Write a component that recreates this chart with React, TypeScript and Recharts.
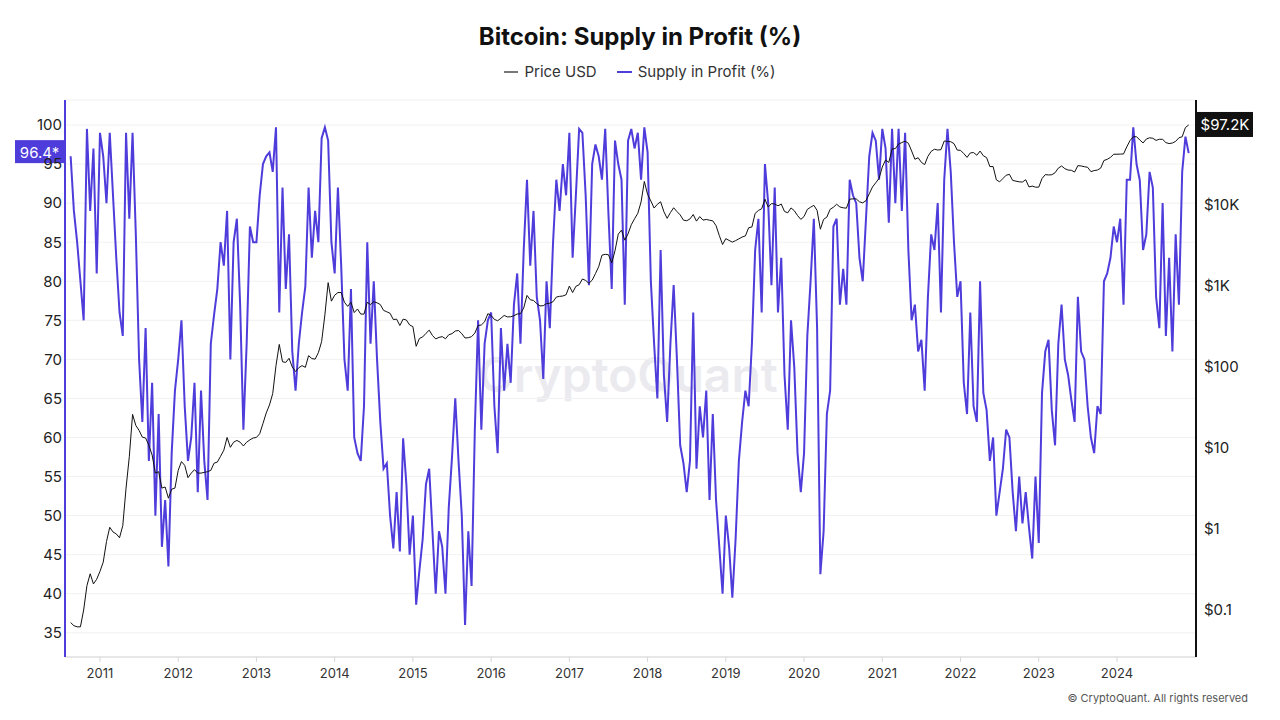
import { ComposedChart, Line, XAxis, YAxis, CartesianGrid, ReferenceLine } from 'recharts'

// Semi-monthly readings (1st and 16th of each month). 2010 starts mid-August.
const FIRST_SLOT_2010 = 15
const SLOTS_PER_YEAR = 24

const years = [2010, 2011, 2012, 2013, 2014, 2015, 2016, 2017, 2018, 2019, 2020, 2021, 2022, 2023, 2024]
const yearTicks = [2011, 2012, 2013, 2014, 2015, 2016, 2017, 2018, 2019, 2020, 2021, 2022, 2023, 2024]
const profitTicks = [35, 40, 45, 50, 55, 60, 65, 70, 75, 80, 85, 90, 95, 100]
const priceTicks = [0.1, 1, 10, 100, 1000, 10000]

// Supply in profit (%)
const profit2010 = [96, 89, 85, 80, 75, 99.5, 89, 97, 81]
const profit2011 = [99, 96, 90, 99, 91, 83, 76, 73, 99, 88, 99, 86, 70, 62, 74, 57, 67, 50, 63, 46, 52, 43.5, 58, 66]
const profit2012 = [70, 75, 64, 57, 60, 67, 53, 66, 57, 52, 72, 75.7, 79, 85, 82, 89, 70, 85, 88, 77, 61, 72, 87, 85]
const profit2013 = [85, 91, 95, 96, 96.5, 94, 99.7, 76, 92, 79, 86, 71, 66, 72, 76, 79.3, 92, 83, 89, 85, 98.3, 99.7, 98, 85]
const profit2014 = [81, 92, 82, 70, 66, 79, 60, 58, 57, 64, 85, 72, 80, 70, 62, 56, 56.7, 50, 45.8, 53, 45.4, 59.9, 54, 45]
const profit2015 = [50, 38.6, 43, 47, 54, 56, 48, 40, 48, 46, 40, 51, 57.5, 65, 57, 50, 36, 48, 41, 61, 75, 61, 72, 75]
const profit2016 = [76, 64, 58, 74, 66, 72, 67, 77, 81, 72, 84, 93, 82, 89, 78, 75, 67.5, 80, 74, 85, 93, 89, 95, 91]
const profit2017 = [99, 83, 91, 99.5, 99, 91, 79.5, 95, 97.5, 96, 93, 99.5, 88.5, 79, 98, 95, 93, 77, 98, 99.5, 97, 99, 93, 99.7]
const profit2018 = [96.5, 80, 72, 65, 84, 68, 62, 72, 79.5, 70, 59, 56.7, 53, 57, 76, 56, 64, 60, 66, 52, 63, 52, 46, 40]
const profit2019 = [50, 46, 39.5, 47, 57, 62, 66, 64, 72, 84, 88, 76, 95, 90, 79.5, 92, 76, 83, 68, 61, 75, 69, 58, 53]
const profit2020 = [58, 73, 80, 88, 74, 42.5, 48, 63, 66, 87, 88, 77, 81.6, 77, 93, 91, 90, 83, 80, 88, 96, 99, 98, 93]
const profit2021 = [99.5, 97, 87.5, 99.5, 90, 99.5, 89, 99, 84, 75, 77, 71, 72.5, 66, 78, 86, 84, 90, 76, 93, 99.5, 94, 85, 78]
const profit2022 = [80, 67, 63, 76, 64, 62, 80, 65.7, 63.5, 57, 60, 50, 53, 56, 61, 60, 53, 48, 55, 49, 53, 48.5, 44.5, 55]
const profit2023 = [46.5, 65.7, 71, 72.5, 63.5, 59, 72, 77, 70, 68, 64.8, 62, 78, 71, 70, 64, 60, 58, 64, 63, 80, 81, 83, 87]
const profit2024 = [85, 88, 77, 93, 93, 99.7, 95, 92.9, 84, 86, 94, 92, 78, 74, 90, 73, 83, 71, 86, 77, 94, 98.5, 96.4]

// Price USD
const price2010 = [0.07, 0.064, 0.062, 0.062, 0.1, 0.2, 0.28, 0.21, 0.24]
const price2011 = [0.3, 0.39, 0.7, 1.05, 0.92, 0.87, 0.78, 1.1, 3.2, 7.8, 26, 19, 16.5, 13.6, 13.3, 10.8, 8.2, 4.9, 5.1, 3.2, 3.3, 2.4, 3.1, 3.2]
const price2012 = [5.3, 6.8, 6.1, 4.3, 4.9, 5.4, 4.9, 4.9, 5.0, 5.1, 5.3, 6.5, 6.7, 7.9, 9.4, 13.5, 10.2, 11.8, 12.4, 11.8, 10.6, 11.8, 12.6, 13.3]
const price2013 = [13.5, 15, 20, 27, 34, 47, 104, 190, 116, 114, 128, 100, 88, 98, 104, 99, 138, 127, 125, 150, 206, 440, 1100, 650]
const price2014 = [770, 830, 830, 630, 560, 630, 470, 520, 450, 450, 630, 590, 640, 620, 590, 500, 480, 460, 385, 390, 325, 390, 380, 330]
const price2015 = [315, 180, 225, 235, 260, 285, 245, 222, 232, 237, 223, 250, 258, 278, 282, 258, 228, 230, 237, 262, 325, 330, 362, 455]
const price2016 = [433, 387, 372, 400, 433, 415, 417, 430, 451, 454, 536, 765, 676, 663, 606, 567, 572, 607, 613, 640, 730, 745, 752, 780]
const price2017 = [998, 830, 990, 1035, 1220, 1170, 1080, 1180, 1420, 1730, 2400, 2460, 2430, 1930, 2720, 4360, 4900, 3680, 4400, 5700, 6750, 7900, 10900, 19500]
const price2018 = [13500, 11200, 9170, 10200, 10950, 8260, 6840, 8060, 9240, 8300, 7540, 6500, 6390, 6730, 7630, 6320, 7190, 6500, 6630, 6490, 6370, 5550, 4200, 3250]
const price2019 = [3840, 3650, 3480, 3630, 3820, 4020, 4150, 5230, 5350, 7880, 8560, 8990, 11800, 9430, 10400, 10300, 9760, 10270, 8320, 8000, 9200, 8500, 7420, 6640]
const price2020 = [7200, 8820, 9380, 9900, 8560, 5020, 6640, 7100, 8850, 9380, 10200, 9450, 9230, 9130, 11800, 11900, 11900, 10950, 10620, 11320, 13740, 16700, 18800, 21300]
const price2021 = [29400, 36000, 33500, 49200, 49600, 56400, 59000, 61300, 57800, 46400, 36700, 38300, 33600, 31500, 39900, 45900, 48800, 47700, 48200, 61600, 61000, 60400, 57200, 47600]
const price2022 = [47300, 43100, 38700, 43900, 44400, 41100, 46300, 40500, 38500, 29800, 29800, 20400, 19300, 21200, 23300, 23900, 20100, 19700, 19300, 19200, 20500, 16700, 17100, 16600]
const price2023 = [16600, 21200, 23700, 23500, 23600, 25000, 28500, 30300, 28100, 27000, 26800, 25500, 30600, 30300, 29700, 29200, 25800, 26600, 27000, 28500, 35400, 36600, 38700, 42300]
const price2024 = [42300, 42500, 42600, 52100, 62400, 69500, 69700, 63400, 58300, 65200, 67500, 66600, 62700, 64800, 64600, 58900, 57300, 58200, 61000, 67600, 69500, 90500, 97200]

const profitByYear = [profit2010, profit2011, profit2012, profit2013, profit2014, profit2015, profit2016, profit2017, profit2018, profit2019, profit2020, profit2021, profit2022, profit2023, profit2024]
const priceByYear = [price2010, price2011, price2012, price2013, price2014, price2015, price2016, price2017, price2018, price2019, price2020, price2021, price2022, price2023, price2024]

const BLUE = '#4f3ddb'
const FONT = 'Inter, "Noto Sans", sans-serif'

const data = years.flatMap((year, k) => {
  const offset = year === 2010 ? FIRST_SLOT_2010 : 0
  return profitByYear[k].map((profit, i) => ({
    t: year + (offset + i) / SLOTS_PER_YEAR,
    profit,
    price: priceByYear[k][i],
  }))
})

const last = data[data.length - 1]

const formatPrice = (v: number) => (v >= 1000 ? `$${v / 1000}K` : `$${v}`)

function LeftBadge({ viewBox }: any) {
  const { x, y } = viewBox
  return (
    <g>
      <rect x={x - 50} y={y - 13} width={49} height={23} fill={BLUE} />
      <text x={x - 25.5} y={y - 1} fill="#fff" fontSize={15} fontFamily={FONT} textAnchor="middle" dominantBaseline="central">
        {`${last.profit}*`}
      </text>
    </g>
  )
}

function RightBadge({ viewBox }: any) {
  const { x, y, width } = viewBox
  const right = x + width
  return (
    <g>
      <rect x={right + 1} y={y - 13} width={56} height={25} fill="#111" />
      <text x={right + 29} y={y - 0.5} fill="#fff" fontSize={15} fontFamily={FONT} textAnchor="middle" dominantBaseline="central">
        {`$${(last.price / 1000).toFixed(1)}K`}
      </text>
    </g>
  )
}

export default function App() {
  return (
    <div style={{ position: 'absolute', left: 0, top: 0, width: 1280, height: 720, background: '#fff', fontFamily: FONT, overflow: 'hidden' }}>
      <div style={{ position: 'absolute', top: 22, width: 1280, textAlign: 'center', fontSize: 24, fontWeight: 700, color: '#111', lineHeight: '30px' }}>
        Bitcoin: Supply in Profit (%)
      </div>
      <div style={{ position: 'absolute', top: 62, width: 1280, display: 'flex', justifyContent: 'center', gap: 20, fontSize: 15, color: '#333', lineHeight: '20px' }}>
        <span style={{ display: 'flex', alignItems: 'center', gap: 6 }}>
          <span style={{ width: 14, height: 1.5, background: '#777', display: 'inline-block' }} />
          Price USD
        </span>
        <span style={{ display: 'flex', alignItems: 'center', gap: 6 }}>
          <span style={{ width: 15, height: 1.5, background: BLUE, display: 'inline-block' }} />
          Supply in Profit (%)
        </span>
      </div>
      <div style={{ position: 'absolute', left: 0, top: 350, width: 1256, textAlign: 'center', fontSize: 48, fontWeight: 600, color: '#ebebef', lineHeight: '50px' }}>
        CryptoQuant
      </div>
      <div style={{ position: 'absolute', left: 0, top: 0 }}>
        <ComposedChart width={1280} height={720} data={data} margin={{ top: 100, right: 0, bottom: 0, left: 0 }}>
          <CartesianGrid yAxisId="left" vertical={false} stroke="#f1f1f1" />
          <XAxis
            dataKey="t"
            type="number"
            domain={[2010.553, 2025.01]}
            ticks={yearTicks}
            allowDataOverflow
            height={63}
            stroke="#d6d6d6"
            tickSize={5}
            tickMargin={7}
            tick={{ fill: '#333', fontSize: 13, fontFamily: FONT }}
          />
          <YAxis
            yAxisId="left"
            orientation="left"
            width={65}
            domain={[31.9, 103.2]}
            ticks={profitTicks}
            allowDataOverflow
            axisLine={{ stroke: BLUE, strokeWidth: 2 }}
            tickLine={false}
            tick={{ fill: '#222', fontSize: 15, fontFamily: FONT, dx: 5 }}
          />
          <YAxis
            yAxisId="right"
            orientation="right"
            width={84}
            scale="log"
            domain={[0.0263, 197700]}
            ticks={priceTicks}
            allowDataOverflow
            axisLine={{ stroke: '#111', strokeWidth: 2 }}
            tickLine={false}
            tickFormatter={formatPrice}
            tick={{ fill: '#222', fontSize: 15, fontFamily: FONT }}
          />
          <Line yAxisId="left" type="linear" dataKey="profit" stroke={BLUE} strokeWidth={2} dot={false} activeDot={false} isAnimationActive={false} />
          <Line yAxisId="right" type="linear" dataKey="price" stroke="#111" strokeWidth={1} dot={false} activeDot={false} isAnimationActive={false} />
          <ReferenceLine yAxisId="left" y={last.profit} stroke="none" ifOverflow="visible" label={<LeftBadge />} />
          <ReferenceLine yAxisId="right" y={last.price} stroke="none" ifOverflow="visible" label={<RightBadge />} />
        </ComposedChart>
      </div>
      <div style={{ position: 'absolute', right: 32, top: 691, fontSize: 11, color: '#555' }}>
        © CryptoQuant. All rights reserved
      </div>
    </div>
  )
}
